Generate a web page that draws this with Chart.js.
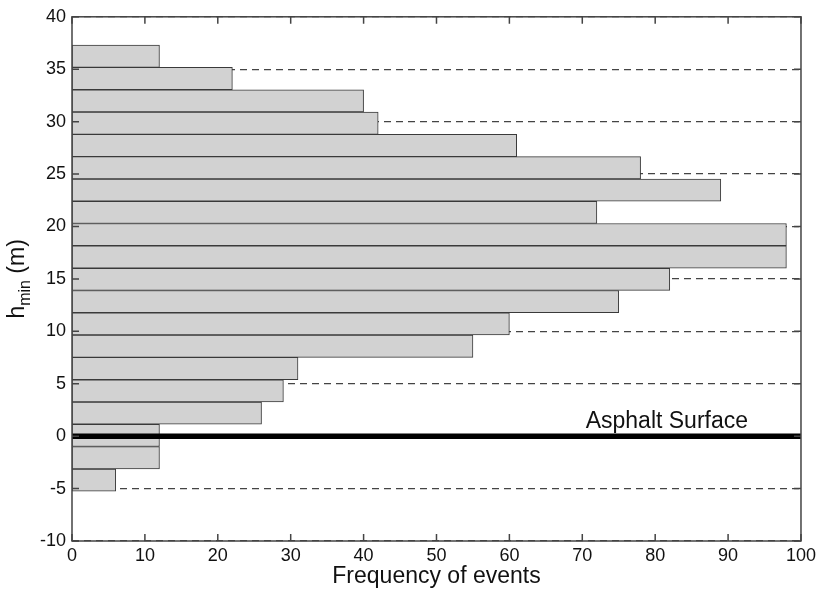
<!DOCTYPE html>
<html>
<head>
<meta charset="utf-8">
<title>h_min histogram</title>
<script src="https://cdn.jsdelivr.net/npm/chart.js@4.4.1/dist/chart.umd.min.js"></script>
<style>
  body { margin: 0; background: #fff; }
  .chart-box { width: 820px; height: 590px; position: relative; }
</style>
</head>
<body>
<div class="chart-box"><canvas id="histChart"></canvas></div>
<script>
// bin centres (m) and counts, bottom to top
const binCenters = [-4.19, -2.06, 0.07, 2.2, 4.32, 6.45, 8.58, 10.71, 12.83, 14.96,
  17.09, 19.22, 21.34, 23.47, 25.6, 27.73, 29.85, 31.98, 34.11, 36.24];
const eventCounts = [6, 12, 12, 26, 29, 31, 55, 60, 75, 82,
  98, 98, 72, 89, 78, 61, 42, 40, 22, 12];

const heightTicks = [-10, -5, 0, 5, 10, 15, 20, 25, 30, 35, 40];
const countTicks = [0, 10, 20, 30, 40, 50, 60, 70, 80, 90, 100];

const surfaceLevel = 0;
const surfaceLabel = "Asphalt Surface";

const fontFamily = "'Liberation Sans', Arial, Helvetica, sans-serif";
Chart.defaults.font.family = fontFamily;
Chart.defaults.color = "#111";

// frame, inward ticks, surface line and label
const framePlugin = {
  id: "framePlugin",
  afterDatasetsDraw(chart) {
    const { ctx, chartArea: a, scales } = chart;
    const x = scales.x;
    const y = scales.y;

    const y0 = y.getPixelForValue(surfaceLevel);
    ctx.save();
    ctx.strokeStyle = "#000";
    ctx.lineWidth = 5.5;
    ctx.beginPath();
    ctx.moveTo(a.left, y0);
    ctx.lineTo(a.right, y0);
    ctx.stroke();

    ctx.font = "23px " + fontFamily;
    ctx.fillStyle = "#111";
    ctx.textAlign = "center";
    ctx.textBaseline = "alphabetic";
    ctx.fillText(surfaceLabel, x.getPixelForValue(81.6), y.getPixelForValue(0.8));

    ctx.strokeStyle = "#444";
    ctx.lineWidth = 1.5;
    ctx.strokeRect(a.left, a.top, a.right - a.left, a.bottom - a.top);

    ctx.beginPath();
    x.ticks.forEach((t) => {
      const px = x.getPixelForValue(t.value);
      ctx.moveTo(px, a.bottom);
      ctx.lineTo(px, a.bottom - 7);
      ctx.moveTo(px, a.top);
      ctx.lineTo(px, a.top + 7);
    });
    y.ticks.forEach((t) => {
      const py = y.getPixelForValue(t.value);
      ctx.moveTo(a.left, py);
      ctx.lineTo(a.left + 7, py);
      ctx.moveTo(a.right, py);
      ctx.lineTo(a.right - 7, py);
    });
    ctx.stroke();
    ctx.restore();
  },
  afterDraw(chart) {
    // y title with subscript: h_min (m)
    const { ctx, chartArea: a } = chart;
    const big = "23px " + fontFamily;
    const small = "16px " + fontFamily;
    ctx.save();
    ctx.fillStyle = "#111";
    ctx.textBaseline = "alphabetic";
    ctx.textAlign = "left";
    ctx.font = big;
    const wh = ctx.measureText("h").width;
    const wr = ctx.measureText(" (m)").width;
    ctx.font = small;
    const ws = ctx.measureText("min").width;
    const start = -(wh + ws + wr) / 2;
    ctx.translate(24, (a.top + a.bottom) / 2);
    ctx.rotate(-Math.PI / 2);
    ctx.font = big;
    ctx.fillText("h", start, 0);
    ctx.font = small;
    ctx.fillText("min", start + wh, 6);
    ctx.font = big;
    ctx.fillText(" (m)", start + wh + ws, 0);
    ctx.restore();
  },
};

const ctx = document.getElementById("histChart");

const histChart = new Chart(ctx, {
  type: "bar",
  data: {
    datasets: [
      {
        label: "Frequency",
        data: binCenters.map((c, i) => ({ x: eventCounts[i], y: c })),
        backgroundColor: "rgb(210, 210, 210)",
        borderColor: "#3a3a3a",
        borderWidth: 1,
        borderSkipped: false,
        barPercentage: 1,
        categoryPercentage: 1,
      },
    ],
  },
  options: {
    indexAxis: "y",
    responsive: true,
    maintainAspectRatio: false,
    animation: false,
    layout: {
      padding: { top: 13, right: 18, left: 0, bottom: 0 },
    },
    plugins: {
      legend: { display: false },
      tooltip: { enabled: false },
    },
    scales: {
      x: {
        type: "linear",
        min: 0,
        max: 100,
        afterBuildTicks: (scale) => {
          scale.ticks = countTicks.map((v) => ({ value: v }));
        },
        afterFit: (scale) => {
          scale.height = 49;
        },
        grid: { display: false, drawTicks: false },
        border: { display: false },
        ticks: {
          font: { size: 18 },
          color: "#111",
          padding: 4,
          maxRotation: 0,
        },
        title: {
          display: true,
          text: "Frequency of events",
          font: { size: 23 },
          color: "#111",
          padding: { top: 0, bottom: 0 },
        },
      },
      y: {
        type: "linear",
        min: -10,
        max: 40,
        offset: false,
        afterBuildTicks: (scale) => {
          scale.ticks = heightTicks.map((v) => ({ value: v }));
        },
        afterFit: (scale) => {
          scale.width = 72;
        },
        grid: {
          color: "#444",
          lineWidth: 1.2,
          drawTicks: false,
          offset: false,
        },
        border: { display: false, dash: [7, 5] },
        ticks: {
          font: { size: 18 },
          color: "#111",
          padding: 6,
        },
      },
    },
  },
  plugins: [framePlugin],
});
</script>
</body>
</html>
